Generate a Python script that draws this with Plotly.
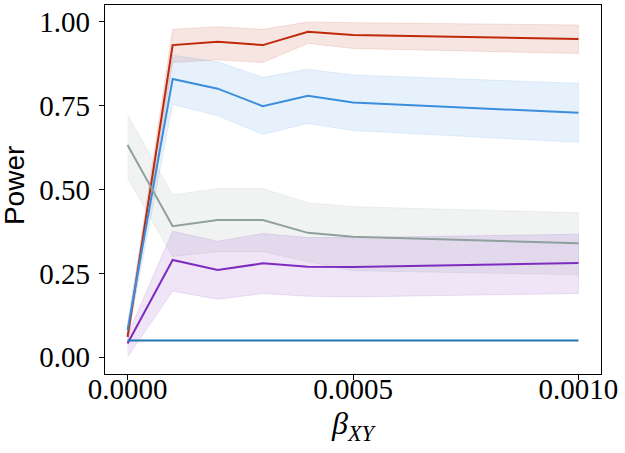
import plotly.graph_objects as go

beta = [0.0, 0.0001, 0.0002, 0.0003, 0.0004, 0.0005, 0.001]

red_mean = [0.061, 0.931, 0.941, 0.931, 0.971, 0.961, 0.949]
red_lo = [0.040, 0.879, 0.887, 0.879, 0.936, 0.921, 0.906]
red_hi = [0.085, 0.978, 0.986, 0.978, 1.000, 0.998, 0.991]

blue_mean = [0.081, 0.830, 0.801, 0.749, 0.780, 0.760, 0.729]
blue_lo = [0.060, 0.754, 0.720, 0.665, 0.697, 0.676, 0.641]
blue_hi = [0.105, 0.901, 0.881, 0.835, 0.859, 0.842, 0.817]

gray_mean = [0.633, 0.391, 0.409, 0.409, 0.371, 0.359, 0.340]
gray_lo = [0.534, 0.300, 0.315, 0.315, 0.285, 0.258, 0.246]
gray_hi = [0.724, 0.484, 0.503, 0.503, 0.461, 0.449, 0.431]

purple_mean = [0.041, 0.290, 0.260, 0.280, 0.270, 0.269, 0.281]
purple_lo = [0.001, 0.197, 0.173, 0.190, 0.182, 0.180, 0.190]
purple_hi = [0.066, 0.376, 0.346, 0.369, 0.357, 0.357, 0.367]

alpha_level = [0.05] * len(beta)

series = [
    (red_mean, red_lo, red_hi, "#C0280A", "rgba(192,40,10,0.12)"),
    (blue_mean, blue_lo, blue_hi, "#3A8EDB", "rgba(58,142,219,0.12)"),
    (gray_mean, gray_lo, gray_hi, "#8FA09E", "rgba(143,160,158,0.12)"),
    (purple_mean, purple_lo, purple_hi, "#7E2CBF", "rgba(126,44,191,0.12)"),
]

fig = go.Figure()
for mean, lo, hi, col, fillcol in series:
    fig.add_trace(go.Scatter(
        x=beta + beta[::-1], y=hi + lo[::-1], fill="toself",
        fillcolor=fillcol, line=dict(color=fillcol, width=1),
        mode="lines", showlegend=False, hoverinfo="skip"))
for mean, lo, hi, col, fillcol in series:
    fig.add_trace(go.Scatter(
        x=beta, y=mean, mode="lines",
        line=dict(color=col, width=2), showlegend=False))
fig.add_trace(go.Scatter(
    x=beta, y=alpha_level, mode="lines",
    line=dict(color="#1F77B4", width=2), showlegend=False))

tickfont = dict(family="Liberation Serif, DejaVu Serif, serif", size=29, color="black")
fig.update_layout(
    width=625, height=453,
    margin=dict(l=105, r=24, t=5, b=79, autoexpand=False),
    paper_bgcolor="white", plot_bgcolor="white",
    xaxis=dict(
        range=[-0.00005, 0.00105],
        tickvals=[0.0, 0.0005, 0.001],
        ticktext=["0.0000", "0.0005", "0.0010"],
        tickfont=tickfont, ticklabelstandoff=-16,
        ticks="outside", ticklen=5, tickwidth=1.2, tickcolor="black",
        showline=True, linecolor="black", linewidth=1.3, mirror=True,
        showgrid=False, zeroline=False, automargin=False,
        title=dict(text="<i>β</i><sub><i>XY</i></sub>",
                   font=dict(family="Liberation Serif, DejaVu Serif, serif", size=32, color="black"),
                   standoff=2),
    ),
    yaxis=dict(
        range=[-0.05, 1.0506],
        tickvals=[0.0, 0.25, 0.5, 0.75, 1.0],
        ticktext=["0.00", "0.25", "0.50", "0.75", "1.00"],
        tickfont=tickfont, ticklabelstandoff=3,
        ticks="outside", ticklen=5, tickwidth=1.2, tickcolor="black",
        showline=True, linecolor="black", linewidth=1.3, mirror=True,
        showgrid=False, zeroline=False, automargin=False,
    ),
    annotations=[dict(
        text="Power", xref="paper", yref="paper", x=-0.1835, y=0.512,
        xanchor="center", yanchor="middle", textangle=-90, showarrow=False,
        font=dict(family="Liberation Sans Narrow, Liberation Sans, Arial, sans-serif", size=28, color="black"),
    )],
)

fig.write_html("out.html", config={"displayModeBar": False},
               post_script="document.body.style.margin='0';document.body.style.padding='0';")
